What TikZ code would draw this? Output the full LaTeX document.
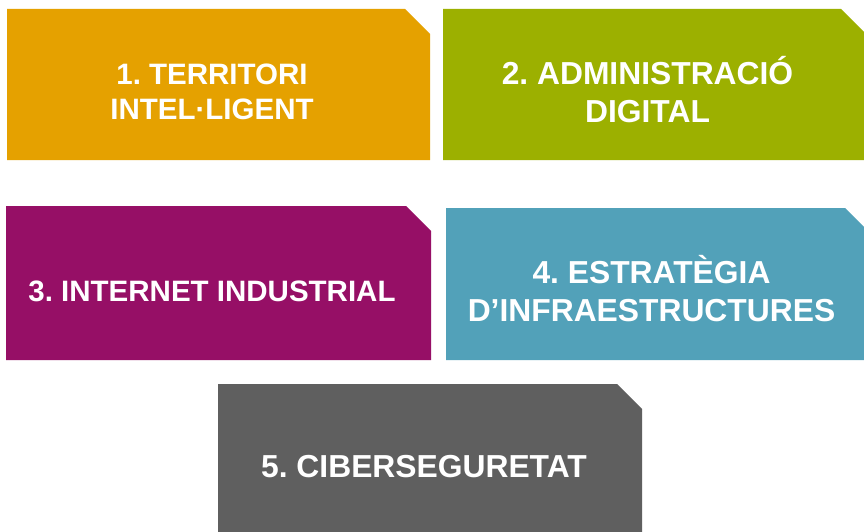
\documentclass[tikz,border=0pt]{standalone}
\usepackage{fontspec}
\setmainfont{Liberation Sans}
\frenchspacing
\definecolor{cOrange}{HTML}{E5A100}
\definecolor{cGreen}{HTML}{9CB000}
\definecolor{cMagenta}{HTML}{960F66}
\definecolor{cTeal}{HTML}{52A1B9}
\definecolor{cGray}{HTML}{5F5F5F}
\begin{document}
\begin{tikzpicture}[x=1pt,y=-1pt,
  label text/.style={text=white, align=center, anchor=base, inner sep=0pt},
  small label/.style={label text, font=\bfseries\fontsize{29.5}{35}\selectfont},
  big label/.style={label text, font=\bfseries\fontsize{31.8}{38}\selectfont}]
\useasboundingbox (0,0) rectangle (864,532);
\fill[white] (0,0) rectangle (864,532);
% boxes with cut top-right corner
\fill[cOrange]  (7,9)    -- (405,9)   -- (430,34)  -- (430,160) -- (7,160)   -- cycle;
\fill[cGreen]   (443,9)  -- (841,9)   -- (864,32)  -- (864,160) -- (443,160) -- cycle;
\fill[cMagenta] (6,206)  -- (406,206) -- (431,231) -- (431,360) -- (6,360)   -- cycle;
\fill[cTeal]    (446,208)-- (845,208) -- (864,227) -- (864,360) -- (446,360) -- cycle;
\fill[cGray]    (218,384)-- (617,384) -- (642,409) -- (642,532) -- (218,532) -- cycle;
% labels (anchor = baseline of last line)
\node[small label] (t1) at (212,120) {1. TERRITORI\\INTEL·LIGENT};
\node[big label]   (t2) at (647.5,122) {2. ADMINISTRACIÓ\\DIGITAL};
\node[small label] (t3) at (212,301) {3. INTERNET INDUSTRIAL};
\node[big label]   (t4) at (651.5,321) {4. ESTRATÈGIA\\D’INFRAESTRUCTURES};
\node[big label]   (t5) at (424,477) {5. CIBERSEGURETAT};
\end{tikzpicture}
\end{document}
